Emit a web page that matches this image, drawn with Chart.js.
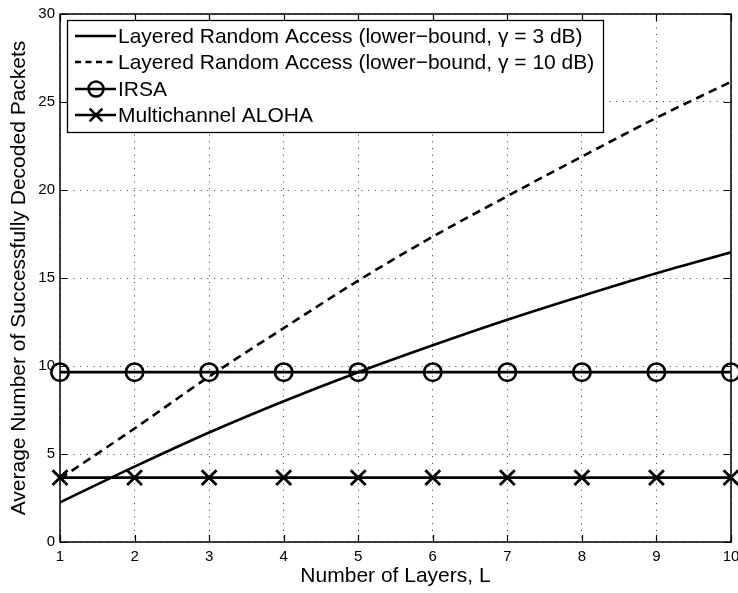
<!DOCTYPE html>
<html>
<head>
<meta charset="utf-8">
<script src="https://cdn.jsdelivr.net/npm/chart.js@4/dist/chart.umd.min.js"></script>
<style>
  html, body { margin: 0; padding: 0; background: #fff; }
  #wrap { width: 738px; height: 593px; }
</style>
</head>
<body>
<div id="wrap"><canvas id="c" width="738" height="593"></canvas></div>
<script>
// Number of layers L (x axis)
const layers = [1, 2, 3, 4, 5, 6, 7, 8, 9, 10];
// Average number of successfully decoded packets per scheme
const lraGamma3  = [2.25, 4.28, 6.22, 8.00, 9.65, 11.18, 12.63, 13.98, 15.27, 16.46];
const lraGamma10 = [3.60, 6.45, 9.40, 12.15, 14.85, 17.35, 19.65, 21.90, 24.10, 26.15];
const irsa       = [9.65, 9.65, 9.65, 9.65, 9.65, 9.65, 9.65, 9.65, 9.65, 9.65];
const aloha      = [3.66, 3.66, 3.66, 3.66, 3.66, 3.66, 3.66, 3.66, 3.66, 3.66];
// Tick values
const xTicks = [1, 2, 3, 4, 5, 6, 7, 8, 9, 10];
const yTicks = [0, 5, 10, 15, 20, 25, 30];

const seriesNames = [
  'Layered Random Access (lower\u2212bound, \u03b3 = 3 dB)',
  'Layered Random Access (lower\u2212bound, \u03b3 = 10 dB)',
  'IRSA',
  'Multichannel ALOHA'
];

const FONT = '"Liberation Sans", Arial, Helvetica, sans-serif';
const LW = 2.6;
const toPoints = ys => layers.map((x, i) => ({ x: x, y: ys[i] }));

// Box around the axes with inward tick marks
const axesFrame = {
  id: 'axesFrame',
  afterDatasetsDraw(chart) {
    const { ctx, chartArea: a, scales: { x, y } } = chart;
    const len = 7;
    ctx.save();
    ctx.strokeStyle = '#000';
    ctx.lineWidth = 1.2;
    ctx.setLineDash([]);
    ctx.beginPath();
    xTicks.forEach(v => {
      const px = Math.round(x.getPixelForValue(v)) + 0.5;
      ctx.moveTo(px, a.bottom); ctx.lineTo(px, a.bottom - len);
      ctx.moveTo(px, a.top); ctx.lineTo(px, a.top + len);
    });
    yTicks.forEach(v => {
      const py = Math.round(y.getPixelForValue(v)) + 0.5;
      ctx.moveTo(a.left, py); ctx.lineTo(a.left + len, py);
      ctx.moveTo(a.right, py); ctx.lineTo(a.right - len, py);
    });
    ctx.stroke();
    ctx.lineWidth = 1.5;
    ctx.strokeRect(a.left, a.top, a.right - a.left, a.bottom - a.top);
    ctx.restore();
  }
};

// Legend drawn inside the upper-left corner of the axes
const innerLegend = {
  id: 'innerLegend',
  afterDraw(chart) {
    const ctx = chart.ctx;
    const bx = 67.5, by = 20.5, bw = 536, bh = 112;
    const rows = [36, 62, 89, 115];
    ctx.save();
    ctx.fillStyle = '#fff';
    ctx.fillRect(bx, by, bw, bh);
    ctx.strokeStyle = '#000';
    ctx.lineWidth = 1.3;
    ctx.setLineDash([]);
    ctx.strokeRect(bx, by, bw, bh);
    chart.data.datasets.forEach((ds, i) => {
      const yy = rows[i];
      ctx.strokeStyle = ds.borderColor;
      ctx.lineWidth = ds.borderWidth;
      ctx.setLineDash(ds.borderDash && ds.borderDash.length ? [6, 4.5] : []);
      ctx.beginPath();
      ctx.moveTo(75, yy);
      ctx.lineTo(116, yy);
      ctx.stroke();
      ctx.setLineDash([]);
      if (ds.pointRadius > 0) {
        ctx.fillStyle = 'rgba(0,0,0,0)';
        Chart.helpers.drawPoint(ctx, {
          pointStyle: ds.pointStyle,
          radius: ds.pointStyle === 'circle' ? 7.5 : 9,
          borderWidth: ds.pointBorderWidth,
          rotation: 0
        }, 96, yy);
      }
      ctx.fillStyle = '#000';
      ctx.font = '21px ' + FONT;
      ctx.textBaseline = 'middle';
      ctx.textAlign = 'left';
      ctx.fillText(ds.label, 118, yy + 1);
    });
    ctx.restore();
  }
};

new Chart(document.getElementById('c'), {
  type: 'line',
  data: {
    datasets: [
      {
        label: seriesNames[0], data: toPoints(lraGamma3),
        borderColor: '#000', borderWidth: LW, pointRadius: 0, fill: false,
        cubicInterpolationMode: 'monotone'
      },
      {
        label: seriesNames[1], data: toPoints(lraGamma10),
        borderColor: '#000', borderWidth: LW, borderDash: [8.5, 5.5], pointRadius: 0, fill: false,
        cubicInterpolationMode: 'monotone'
      },
      {
        label: seriesNames[2], data: toPoints(irsa),
        borderColor: '#000', borderWidth: LW, pointStyle: 'circle', pointRadius: 8.7,
        pointBorderWidth: LW, pointBackgroundColor: 'rgba(0,0,0,0)', pointBorderColor: '#000',
        fill: false, clip: false
      },
      {
        label: seriesNames[3], data: toPoints(aloha),
        borderColor: '#000', borderWidth: LW, pointStyle: 'crossRot', pointRadius: 10.5,
        pointBorderWidth: 2.8, pointBorderColor: '#000', fill: false, clip: false
      }
    ]
  },
  options: {
    responsive: false,
    animation: false,
    devicePixelRatio: 1,
    layout: { autoPadding: false, padding: { top: 14, right: 7, left: 0, bottom: 0 } },
    plugins: { legend: { display: false }, tooltip: { enabled: false } },
    scales: {
      x: {
        type: 'linear', min: 1, max: 10,
        afterFit: s => { s.height = 51; s.paddingLeft = 0; s.paddingRight = 0; },
        afterBuildTicks: s => { s.ticks = xTicks.map(v => ({ value: v })); },
        ticks: { color: '#000', font: { size: 15, family: FONT }, padding: 6, maxRotation: 0 },
        grid: { color: 'rgba(0,0,0,0.8)', lineWidth: 1, drawTicks: false },
        border: { display: false, dash: [1, 5.7] },
        title: { display: true, text: 'Number of Layers, L', color: '#000',
                 font: { size: 21, family: FONT }, padding: { top: 0, bottom: 4 } }
      },
      y: {
        type: 'linear', min: 0, max: 30,
        afterFit: s => { s.width = 60; s.paddingTop = 0; s.paddingBottom = 0; },
        afterBuildTicks: s => { s.ticks = yTicks.map(v => ({ value: v })); },
        ticks: { color: '#000', font: { size: 15, family: FONT }, padding: 5 },
        grid: { color: 'rgba(0,0,0,0.8)', lineWidth: 1, drawTicks: false },
        border: { display: false, dash: [1, 5.7] },
        title: { display: true, text: 'Average Number of Successfully Decoded Packets', color: '#000',
                 font: { size: 21, family: FONT }, padding: { top: 6.5, bottom: 0 } }
      }
    }
  },
  plugins: [axesFrame, innerLegend]
});
</script>
</body>
</html>
